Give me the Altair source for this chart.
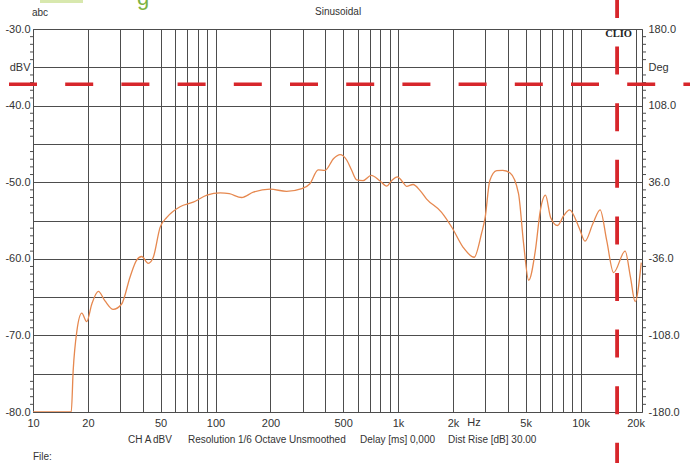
import altair as alt
import pandas as pd

# ---------------- data ----------------
freq_hz = [10, 16.2, 16.6, 17.4, 18.5, 19.7, 21.0, 22.8, 24.8, 27.5, 30.6, 34.0, 36.9, 39.4,
           42.8, 45.6, 49.7, 54.1, 63.9, 75.5, 89.7, 106, 119, 139, 161, 199, 245, 297, 329,
           365, 398, 444, 481, 523, 557, 593, 643, 713, 794, 867, 922, 990, 1063, 1113, 1208,
           1321, 1434, 1727, 1978, 2272, 2613, 2866, 3001, 3180, 3473, 3747, 4112, 4570, 4875,
           5195, 5654, 6016, 6421, 6850, 7476, 8088, 8702, 9877, 10570, 11685, 12800, 13900,
           15160, 17540, 18760, 19900, 21500]
level_dbv = [-80, -80, -74.6, -69.4, -67.1, -68.2, -65.9, -64.25, -65.5, -66.6, -65.9, -62.4,
             -60.2, -59.7, -60.6, -59.8, -55.9, -54.6, -53.2, -52.6, -51.7, -51.4, -51.5, -52.0,
             -51.3, -50.9, -51.2, -50.85, -50.2, -48.4, -48.45, -46.9, -46.4, -47.1, -48.45,
             -49.7, -49.8, -49.1, -49.8, -50.5, -49.8, -49.3, -50.0, -50.55, -50.3, -51.1, -52.2,
             -53.9, -55.95, -58.5, -59.8, -56.7, -54.6, -49.8, -48.5, -48.45, -48.8, -51.5,
             -58.05, -62.8, -58.9, -53.7, -51.7, -54.6, -55.65, -54.35, -53.6, -56.1, -57.7,
             -55.4, -53.6, -57.6, -61.8, -59.0, -62.4, -65.6, -60.5]

x_grid = [10, 20, 30, 40, 50, 60, 70, 80, 90,
          100, 200, 300, 400, 500, 600, 700, 800, 900,
          1000, 2000, 3000, 4000, 5000, 6000, 7000, 8000, 9000,
          10000, 20000]
x_labels = {10: "10", 20: "20", 50: "50", 100: "100", 200: "200", 500: "500",
            1000: "1k", 2000: "2k", 5000: "5k", 10000: "10k", 20000: "20k"}
y_grid = [-80, -75, -70, -65, -60, -55, -50, -45, -40, -35, -30]
y_labels = {-30: "-30.0", -35: "dBV", -40: "-40.0", -50: "-50.0", -60: "-60.0",
            -70: "-70.0", -80: "-80.0"}
deg_grid = [-180, -144, -108, -72, -36, 0, 36, 72, 108, 144, 180]
deg_labels = {180: "180.0", 144: "Deg", 108: "108.0", 36: "36.0", -36: "-36.0",
              -108: "-108.0", -180: "-180.0"}
minor_db = [v for v in range(-79, -30) if v % 5 != 0]

marker_db = -37.2
marker_hz = 15850

bottom_texts = ["CH A", "dBV", "Resolution 1/6 Octave", "Unsmoothed",
                "Delay [ms] 0,000", "Dist Rise [dB] 30.00"]

# ---------------- layout / style ----------------
bottom_x = [95, 120, 155, 256, 327, 415]
FONT = "Liberation Sans"
TXT = "#333333"
GRID = "#4d4d4d"
RED = "#d7262b"
ORANGE = "#e6884f"


def label_expr(d):
    return " : ".join(f"datum.value == {k} ? '{v}'" for k, v in d.items()) + " : ''"


xscale = alt.Scale(type="log", domain=[10, 21700], nice=False)
xaxis = alt.Axis(values=x_grid, labelExpr=label_expr(x_labels), grid=True, gridColor=GRID,
                 gridWidth=1, gridOpacity=1, ticks=False, domain=False, title=None,
                 labelFont=FONT, labelFontSize=11, labelColor=TXT, labelPadding=5,
                 labelFlush=False, labelOverlap=False)
yscale = alt.Scale(domain=[-80, -30], nice=False, zero=False)
yaxis = alt.Axis(values=y_grid, labelExpr=label_expr(y_labels), grid=True, gridColor=GRID,
                 gridWidth=1, gridOpacity=1, ticks=False, domain=False, title=None,
                 labelFont=FONT, labelFontSize=11, labelColor=TXT, labelPadding=3,
                 labelFlush=False, labelOverlap=False)


def X():
    return alt.X("freq:Q", scale=xscale, axis=xaxis)


def Y():
    return alt.Y("db:Q", scale=yscale, axis=yaxis)


curve_df = pd.DataFrame({"freq": freq_hz, "db": level_dbv})
line = alt.Chart(curve_df).mark_line(
    color=ORANGE, strokeWidth=1.3, interpolate="monotone", clip=True
).encode(x=X(), y=Y())

minor_df = pd.DataFrame({"db": minor_db})
ticks_left = alt.Chart(minor_df).mark_rule(color=GRID, strokeWidth=1).encode(
    y=Y(), x=alt.value(-3), x2=alt.value(0))
ticks_right = alt.Chart(minor_df).mark_rule(color=GRID, strokeWidth=1).encode(
    y=Y(), x=alt.value(609), x2=alt.value(613))

hline = alt.Chart(pd.DataFrame({"db": [marker_db]})).mark_rule(
    color=RED, strokeWidth=3.5, strokeDash=[28, 28.2]
).encode(y=Y(), x=alt.value(-24), x2=alt.value(657))

vline = alt.Chart(pd.DataFrame({"freq": [marker_hz]})).mark_rule(
    color=RED, strokeWidth=3.8, strokeDash=[28, 28.6]
).encode(x=X(), y=alt.value(-39), y2=alt.value(434))

ann = pd.DataFrame({"t": [0]})


def text(label, x, y, align="left", size=10, font=FONT, weight="normal", color=TXT):
    return alt.Chart(ann).mark_text(
        text=label, align=align, baseline="middle", font=font, fontSize=size,
        fontWeight=weight, color=color
    ).encode(x=alt.value(x), y=alt.value(y))


texts = [
    text("abc", -1, -16),
    text("Sinusoidal", 282, -17),
    text("CLIO", 599, 5, align="right", size=10.5, font="Liberation Serif", weight="bold",
         color="#222222"),
    text("Hz", 441, 394, align="center", size=11),
    text("File:", 0, 428),
]
texts += [text(t, bx, 411) for t, bx in zip(bottom_texts, bottom_x)]

green_g = alt.Chart(ann).mark_text(
    text="g", align="left", baseline="alphabetic", font=FONT, fontSize=22, color="#7cb342"
).encode(x=alt.value(104), y=alt.value(-24))
green_bar = alt.Chart(ann).mark_rect(color="#d8e8ae").encode(
    x=alt.value(7), x2=alt.value(50), y=alt.value(-29), y2=alt.value(-26))

db_layers = alt.layer(ticks_left, ticks_right, line, hline, vline, green_bar, green_g, *texts)

deg_layer = alt.Chart(pd.DataFrame({"deg": [-180, 180]})).mark_point(opacity=0).encode(
    y=alt.Y("deg:Q", scale=alt.Scale(domain=[-180, 180], nice=False, zero=False),
            axis=alt.Axis(orient="right", values=deg_grid, labelExpr=label_expr(deg_labels),
                          grid=False, ticks=False, domain=False, title=None,
                          labelFont=FONT, labelFontSize=11, labelColor=TXT,
                          labelPadding=6, labelAlign="left", labelFlush=False,
                          labelOverlap=False))
)

chart = alt.layer(db_layers, deg_layer).resolve_scale(y="independent").properties(
    width=609, height=383,
    padding={"left": 33, "top": 29, "right": 48, "bottom": 51},
    autosize=alt.AutoSizeParams(type="none"),
    background="white",
).configure_view(stroke="#444444", strokeWidth=1)

chart.save("out.html", embed_options={"renderer": "svg", "actions": False})
